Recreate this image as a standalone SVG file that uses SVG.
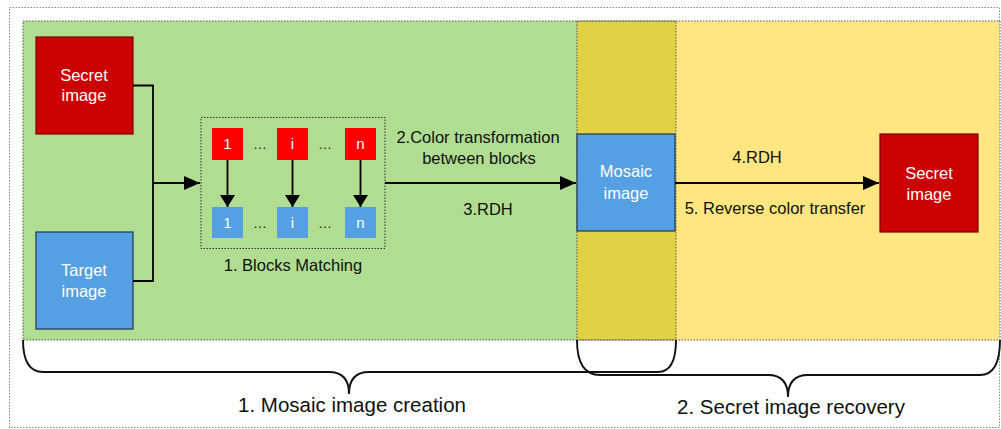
<svg xmlns="http://www.w3.org/2000/svg" width="1001" height="429" viewBox="0 0 1001 429">
<defs>
<marker id="ah" viewBox="0 0 10 10" refX="10" refY="5" markerWidth="12" markerHeight="15" markerUnits="userSpaceOnUse" orient="auto" preserveAspectRatio="none">
<path d="M0,0 L10,5 L0,10 z" fill="#000"/>
</marker>
<marker id="ahL" viewBox="0 0 10 10" refX="10" refY="5" markerWidth="16" markerHeight="14" markerUnits="userSpaceOnUse" orient="auto" preserveAspectRatio="none">
<path d="M0,0 L10,5 L0,10 z" fill="#000"/>
</marker>
<style>
text{font-family:"Liberation Sans",Arial,sans-serif;}
.w{fill:#fff;font-size:16.5px;text-anchor:middle;}
.sm{fill:#fff;font-size:15px;text-anchor:middle;}
.dots{fill:#222;font-size:14px;text-anchor:middle;}
.lbl{fill:#111;font-size:16.5px;text-anchor:middle;}
.big{fill:#111;font-size:20.5px;text-anchor:middle;}
.region{stroke:#555;stroke-width:1;stroke-dasharray:1.5 1.5;}
.bigred{fill:#CC0000;stroke:#7a0000;stroke-width:1.2;}
.blue{fill:#55A0E2;stroke:#1f3550;stroke-width:1.2;}
.sred{fill:#FF0000;}
.sblue{fill:#55A0E2;}
.ln{fill:none;stroke:#000;stroke-width:1.8;}
.brace{fill:none;stroke:#111;stroke-width:1.9;}
</style>
</defs>

<rect x="9.5" y="7.5" width="990" height="420" fill="#fff" stroke="#888" stroke-width="1" stroke-dasharray="1.5 1.5"/>

<g id="regions">
<rect x="23" y="21" width="554" height="319" fill="#B0DD92"/>
<rect x="577" y="21" width="99" height="319" fill="#DFD343"/>
<rect x="676" y="21" width="324" height="319" fill="#FFE680"/>
<rect x="23" y="21" width="653" height="319" fill="none" class="region"/>
<rect x="577" y="21" width="423" height="319" fill="none" class="region"/>
</g>

<g id="braces">
<path class="brace" d="M23,340 Q23,372 43,372 L329,372 Q349,372 349,394 Q349,372 369,372 L658,372 Q676,372 676,340"/>
<path class="brace" d="M577,340 Q577,375 600,375 L768,375 Q788,375 788,397 Q788,375 808,375 L980,375 Q1000,375 1000,340"/>
</g>

<g id="secret-image">
<rect class="bigred" x="36" y="37" width="97" height="97"/>
<text class="w" x="84" y="81">Secret</text>
<text class="w" x="84" y="101">image</text>
</g>

<g id="target-image">
<rect class="blue" x="36" y="232" width="97" height="97"/>
<text class="w" x="84" y="276">Target</text>
<text class="w" x="84" y="297">image</text>
</g>

<g id="blocks-matching">
<rect x="201" y="117.5" width="184" height="131" fill="none" stroke="#333" stroke-width="1" stroke-dasharray="1.5 1.5"/>
<rect class="sred" x="212" y="128" width="31" height="32"/>
<rect class="sred" x="277" y="128" width="31" height="32"/>
<rect class="sred" x="345" y="128" width="31" height="32"/>
<rect class="sblue" x="212" y="207" width="31" height="31"/>
<rect class="sblue" x="277" y="207" width="31" height="31"/>
<rect class="sblue" x="345" y="207" width="31" height="31"/>
<text class="sm" x="227.5" y="149">1</text>
<text class="sm" x="292.5" y="149">i</text>
<text class="sm" x="360.5" y="149">n</text>
<text class="sm" x="227.5" y="228">1</text>
<text class="sm" x="292.5" y="228">i</text>
<text class="sm" x="360.5" y="228">n</text>
<text class="dots" x="260" y="149">…</text>
<text class="dots" x="325" y="149">…</text>
<text class="dots" x="260" y="228">…</text>
<text class="dots" x="325" y="228">…</text>
<text class="lbl" x="293" y="271">1. Blocks Matching</text>
</g>

<g id="mosaic-image">
<rect class="blue" x="577" y="134" width="98" height="97"/>
<text class="w" x="626" y="177">Mosaic</text>
<text class="w" x="626" y="199">image</text>
</g>

<g id="secret-image-out">
<rect class="bigred" x="880" y="134" width="98" height="98"/>
<text class="w" x="929" y="179">Secret</text>
<text class="w" x="929" y="200">image</text>
</g>

<g id="connectors">
<path class="ln" d="M133,85.5 H153 V281 H133"/>
<path class="ln" d="M153,183 H200" marker-end="url(#ahL)"/>
<path class="ln" d="M227.5,160 V207" marker-end="url(#ah)"/>
<path class="ln" d="M292.5,160 V207" marker-end="url(#ah)"/>
<path class="ln" d="M360.5,160 V207" marker-end="url(#ah)"/>
<path class="ln" d="M385,183 H576" marker-end="url(#ahL)"/>
<path class="ln" d="M675,183 H879" marker-end="url(#ahL)"/>
</g>

<g id="labels">
<text class="lbl" x="478" y="143">2.Color transformation</text>
<text class="lbl" x="479" y="164">between blocks</text>
<text class="lbl" x="488" y="215">3.RDH</text>
<text class="lbl" x="757" y="163">4.RDH</text>
<text class="lbl" x="775" y="214">5. Reverse color transfer</text>
<text class="big" x="352" y="412">1. Mosaic image creation</text>
<text class="big" x="791" y="414">2. Secret image recovery</text>
</g>
</svg>
